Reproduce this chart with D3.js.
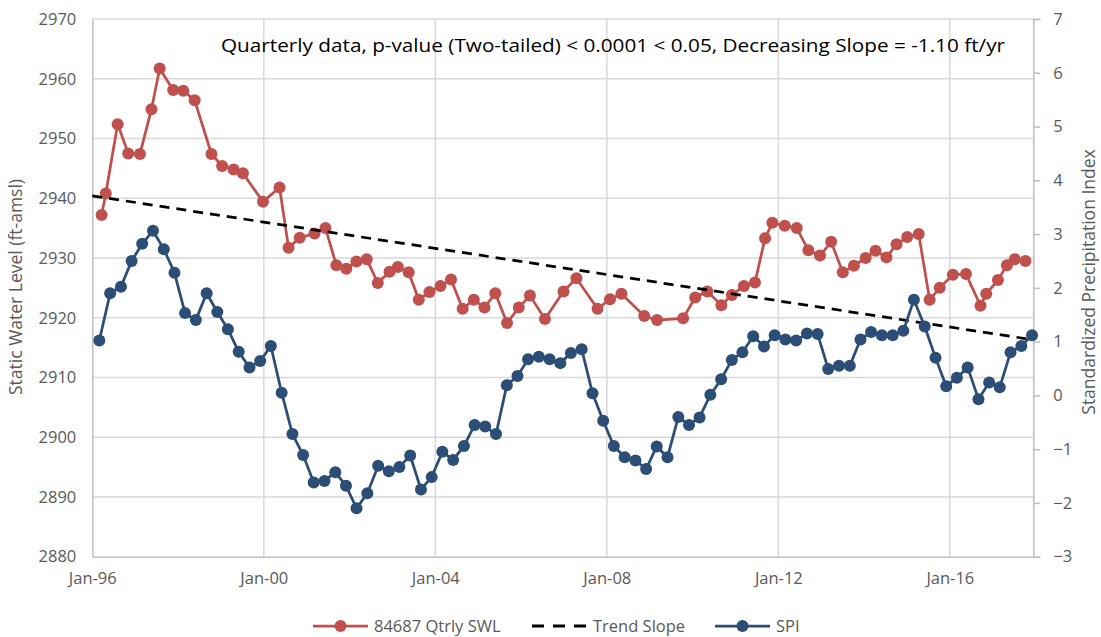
<!DOCTYPE html>
<html>
<head>
<meta charset="utf-8">
<script src="https://cdn.jsdelivr.net/npm/d3@7"></script>
<style>
  body { margin: 0; background: #fff; }
  text { font-family: "Open Sans", "Noto Sans", sans-serif; }
</style>
</head>
<body>
<div id="chart"></div>
<script>
// SWL measurement dates (irregular) and values, ft-amsl
var swlDates = ["1996-03-20","1996-04-25","1996-08-04","1996-11-02","1997-02-10","1997-05-19","1997-07-28","1997-11-20","1998-02-14","1998-05-22",
  "1998-10-12","1999-01-11","1999-04-19","1999-07-07","1999-12-25","2000-05-14","2000-07-30","2000-11-02","2001-03-08","2001-06-09",
  "2001-09-10","2001-12-04","2002-02-28","2002-05-27","2002-08-29","2002-12-07","2003-02-16","2003-05-19","2003-08-13","2003-11-12",
  "2004-02-14","2004-05-14","2004-08-21","2004-11-24","2005-02-23","2005-05-26","2005-09-03","2005-12-12","2006-03-17","2006-07-23",
  "2006-12-28","2007-04-17","2007-10-14","2008-01-28","2008-05-05","2008-11-15","2009-03-04","2009-10-12","2010-01-23","2010-05-06",
  "2010-09-03","2010-12-01","2011-03-14","2011-06-16","2011-09-10","2011-11-11","2012-02-25","2012-06-06","2012-09-13","2012-12-21",
  "2013-03-26","2013-07-03","2013-10-06","2014-01-14","2014-04-08","2014-07-10","2014-10-04","2015-01-03","2015-04-11","2015-07-13",
  "2015-10-07","2016-01-27","2016-05-18","2016-09-18","2016-11-06","2017-02-14","2017-05-01","2017-07-07","2017-10-06"];
var swlValues = [2937.2,2940.8,2952.4,2947.5,2947.4,2954.9,2961.7,2958.1,2958.0,2956.4,
  2947.4,2945.4,2944.8,2944.2,2939.4,2941.8,2931.7,2933.4,2934.1,2935.0,
  2928.8,2928.2,2929.4,2929.8,2925.8,2927.7,2928.5,2927.6,2923.0,2924.3,
  2925.3,2926.4,2921.5,2923.0,2921.7,2924.1,2919.1,2921.7,2923.7,2919.8,
  2924.4,2926.6,2921.5,2923.1,2924.0,2920.3,2919.6,2919.9,2923.4,2924.4,
  2922.1,2923.8,2925.3,2925.9,2933.3,2935.9,2935.4,2935.0,2931.3,2930.4,
  2932.7,2927.6,2928.7,2930.0,2931.2,2930.1,2932.3,2933.5,2934.0,2923.0,
  2925.0,2927.2,2927.3,2922.0,2924.0,2926.3,2928.8,2929.8,2929.5];

// SPI, one value per quarter, Mar-96 .. Dec-17
var spiStart = "1996-03-01", spiEnd = "2018-01-01";
var spiValues = [1.02,1.90,2.02,2.50,2.82,3.06,2.72,2.28,1.53,1.40,
  1.90,1.55,1.23,0.81,0.52,0.64,0.92,0.05,-0.72,-1.11,
  -1.62,-1.59,-1.43,-1.68,-2.10,-1.82,-1.31,-1.41,-1.33,-1.12,
  -1.75,-1.52,-1.05,-1.20,-0.94,-0.55,-0.58,-0.72,0.19,0.36,
  0.67,0.72,0.67,0.60,0.79,0.86,0.04,-0.47,-0.94,-1.15,
  -1.21,-1.37,-0.95,-1.15,-0.40,-0.55,-0.41,0.01,0.30,0.66,
  0.80,1.10,0.91,1.12,1.04,1.02,1.15,1.14,0.49,0.55,
  0.55,1.04,1.18,1.12,1.12,1.20,1.78,1.28,0.70,0.17,
  0.33,0.52,-0.07,0.24,0.15,0.80,0.92,1.12];

// trend line end points
var trendDates = ["1996-01-01","2017-12-12"];
var trendValues = [2940.4,2916.3];

var leftTicks = [2880,2890,2900,2910,2920,2930,2940,2950,2960,2970];
var rightTicks = [-3,-2,-1,0,1,2,3,4,5,6,7];
var xTickYears = [1996,2000,2004,2008,2012,2016];
var legendLabels = ["84687 Qtrly SWL","Trend Slope","SPI"];
var titleText = "Quarterly data, p-value (Two-tailed) < 0.0001 < 0.05, Decreasing Slope = -1.10 ft/yr";

var W = 1101, H = 637;
var red = "#c0504d", blue = "#2c4d75", grid = "#d9d9d9", axisCol = "#bfbfbf", txt = "#595959";

var parse = d3.timeParse("%Y-%m-%d");
var swl = swlDates.map(function(d,i){ return {date: parse(d), v: swlValues[i]}; });
var spiDates = d3.timeMonth.range(parse(spiStart), parse(spiEnd), 3);
var spi = spiValues.map(function(v,i){ return {date: spiDates[i], v: v}; });
var trend = trendDates.map(function(d,i){ return {date: parse(d), v: trendValues[i]}; });

var svg = d3.select("#chart").append("svg").attr("width", W).attr("height", H);

var x = d3.scaleTime().domain([parse("1996-01-01"), parse("2017-12-12")]).range([92.3, 1033.3]);
var yL = d3.scaleLinear().domain([2880, 2970]).range([556.7, 19]);
var yR = d3.scaleLinear().domain([-3, 7]).range([556.7, 19]);

// grid
svg.append("g").selectAll("line").data(leftTicks.slice(1)).enter().append("line")
  .attr("x1", 92.3).attr("x2", 1033.3)
  .attr("y1", function(d){ return yL(d); }).attr("y2", function(d){ return yL(d); })
  .attr("stroke", grid).attr("stroke-width", 1.5);
svg.append("g").selectAll("line").data(xTickYears.slice(1)).enter().append("line")
  .attr("x1", function(d){ return x(new Date(d,0,1)); }).attr("x2", function(d){ return x(new Date(d,0,1)); })
  .attr("y1", 19).attr("y2", 556.7)
  .attr("stroke", grid).attr("stroke-width", 1.5);

// title text sits over grid
svg.append("text").attr("x", 221).attr("y", 52).attr("font-size", 18.5).attr("fill", "#000")
  .attr("textLength", 784).attr("lengthAdjust", "spacingAndGlyphs").text(titleText);

// axes
var axL = svg.append("g").attr("transform", "translate(92.3,0)")
  .call(d3.axisLeft(yL).tickValues(leftTicks).tickFormat(d3.format("d")).tickSize(0).tickPadding(16));
var axR = svg.append("g").attr("transform", "translate(1033.3,0)")
  .call(d3.axisRight(yR).tickValues(rightTicks).tickFormat(d3.format("d")).tickSize(7).tickPadding(13));
var axB = svg.append("g").attr("transform", "translate(0,556.7)")
  .call(d3.axisBottom(x).tickValues(xTickYears.map(function(d){ return new Date(d,0,1); }))
    .tickFormat(d3.timeFormat("Jan-%y")).tickSize(0).tickPadding(16));
[axL, axR, axB].forEach(function(a){
  a.select(".domain").attr("stroke", axisCol).attr("stroke-width", 1.5);
  a.selectAll(".tick line").attr("stroke", axisCol).attr("stroke-width", 1.5);
  a.selectAll("text").attr("fill", txt).attr("font-size", 16.5)
    .attr("font-family", "'Open Sans', 'Noto Sans', sans-serif");
});
axR.selectAll("text").attr("text-anchor", "start");

svg.append("text").attr("transform", "translate(22,287) rotate(-90)").attr("text-anchor", "middle")
  .attr("font-size", 17.5).attr("fill", txt).text("Static Water Level (ft-amsl)");
svg.append("text").attr("transform", "translate(1095,282) rotate(-90)").attr("text-anchor", "middle")
  .attr("font-size", 17.5).attr("fill", txt).text("Standardized Precipitation Index");

// series
var lineL = d3.line().x(function(d){ return x(d.date); }).y(function(d){ return yL(d.v); });
var lineR = d3.line().x(function(d){ return x(d.date); }).y(function(d){ return yR(d.v); });

svg.append("path").datum(swl).attr("d", lineL).attr("fill", "none").attr("stroke", red).attr("stroke-width", 2.75);
svg.append("g").selectAll("circle").data(swl).enter().append("circle")
  .attr("cx", function(d){ return x(d.date); }).attr("cy", function(d){ return yL(d.v); })
  .attr("r", 6).attr("fill", red);

svg.append("path").datum(trend).attr("d", lineL).attr("fill", "none").attr("stroke", "#000")
  .attr("stroke-width", 2.75).attr("stroke-dasharray", "10,7");

svg.append("path").datum(spi).attr("d", lineR).attr("fill", "none").attr("stroke", blue).attr("stroke-width", 2.75);
svg.append("g").selectAll("circle").data(spi).enter().append("circle")
  .attr("cx", function(d){ return x(d.date); }).attr("cy", function(d){ return yR(d.v); })
  .attr("r", 6).attr("fill", blue);

// legend
var legX = [313, 532, 715];
var leg = svg.append("g").selectAll("g").data(legendLabels).enter().append("g")
  .attr("transform", function(d,i){ return "translate(" + legX[i] + ",626)"; });
leg.append("line").attr("x1", 0).attr("x2", 55).attr("y1", 0).attr("y2", 0)
  .attr("stroke", function(d,i){ return [red, "#000", blue][i]; })
  .attr("stroke-width", function(d,i){ return i == 1 ? 3 : 2.75; })
  .attr("stroke-dasharray", function(d,i){ return i == 1 ? "12,9" : null; });
leg.filter(function(d,i){ return i != 1; }).append("circle").attr("cx", 27.5).attr("cy", 0).attr("r", 6)
  .attr("fill", function(d,i){ return i == 0 ? red : blue; });
leg.append("text").attr("x", 61).attr("y", 0).attr("dy", "0.35em").attr("font-size", 16.5).attr("fill", txt)
  .text(function(d){ return d; });
</script>
</body>
</html>
